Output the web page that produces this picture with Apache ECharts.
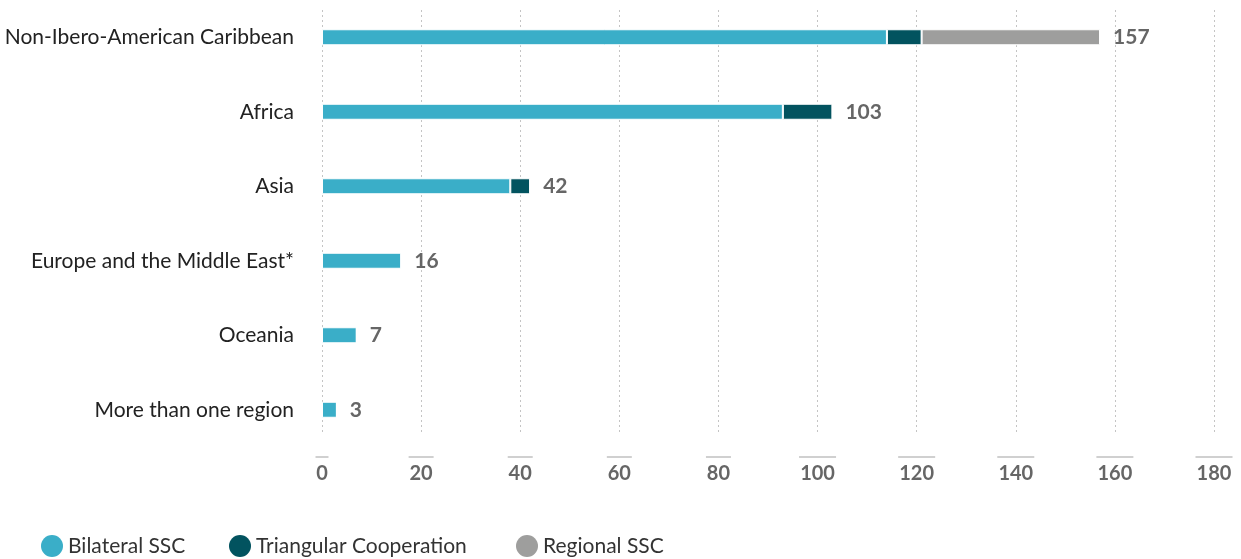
<!DOCTYPE html>
<html><head><meta charset="utf-8">
<script src="https://cdn.jsdelivr.net/npm/echarts@6/dist/echarts.min.js"></script>
<style>html,body{margin:0;padding:0;background:#fff}#c{width:1241px;height:559px}</style>
</head><body><div id="c"></div>
<script>
const categories = ["Non-Ibero-American Caribbean","Africa","Asia","Europe and the Middle East*","Oceania","More than one region"];
const bilateral = [114, 93, 38, 16, 7, 3];
const triangular = [7, 10, 4, 0, 0, 0];
const regional = [36, 0, 0, 0, 0, 0];
const xTicks = [0, 20, 40, 60, 80, 100, 120, 140, 160, 180];
const seriesNames = ['Bilateral SSC', 'Triangular Cooperation', 'Regional SSC'];
const totals = categories.map((c, i) => bilateral[i] + triangular[i] + regional[i]);

const FONT = 'Lato, "Noto Sans", sans-serif';
const chart = echarts.init(document.getElementById('c'), null, {renderer: 'canvas'});
const segStyle = (color) => ({color: color, borderColor: '#fff', borderWidth: 1});
const legendLefts = [36, 224, 511];
chart.setOption({
  animation: false,
  textStyle: {fontFamily: FONT},
  grid: [
    {left: 322, right: 27, top: 0, height: 447},
    {left: 322, right: 27, top: 10, height: 422}
  ],
  xAxis: [
    {gridIndex: 0, type: 'value', min: xTicks[0], max: xTicks[xTicks.length - 1], interval: xTicks[1] - xTicks[0],
     axisLine: {show: false}, axisTick: {show: false}, splitLine: {show: false},
     axisLabel: {margin: 9, color: '#666', fontFamily: FONT, fontWeight: 'bold', fontSize: 20,
       formatter: function (v) {
         const s = String(v);
         return '{b' + s.length + '|}\n{v|' + s + '}';
       },
       rich: {
         b1: {width: 13, height: 2, backgroundColor: '#d0d0d0'},
         b2: {width: 25, height: 2, backgroundColor: '#d0d0d0'},
         b3: {width: 37, height: 2, backgroundColor: '#d0d0d0'},
         v: {color: '#666', fontFamily: FONT, fontWeight: 'bold', fontSize: 20, padding: [7, 0, 0, 0], lineHeight: 24}
       }}},
    {gridIndex: 1, type: 'value', min: xTicks[0], max: xTicks[xTicks.length - 1], interval: xTicks[1] - xTicks[0],
     axisLine: {show: false}, axisTick: {show: false}, axisLabel: {show: false},
     splitLine: {show: true, lineStyle: {color: '#c4c4c4', type: [2, 3], width: 1}}}
  ],
  yAxis: [
    {gridIndex: 0, type: 'category', data: categories, inverse: true,
     axisLine: {show: false}, axisTick: {show: false}, splitLine: {show: false},
     axisLabel: {margin: 28, color: '#222', fontFamily: FONT, fontSize: 21, padding: [0, 0, 5, 0]}},
    {gridIndex: 1, type: 'value', show: false, min: 0, max: 1}
  ],
  legend: seriesNames.map((n, i) => ({
    data: [n], left: legendLefts[i], bottom: -3, icon: 'circle', itemWidth: 22, itemHeight: 22,
    itemStyle: {borderWidth: 0}, textStyle: {color: '#333', fontFamily: FONT, fontSize: 21}
  })),
  series: [
    {name: seriesNames[0], type: 'bar', stack: 't', barWidth: 16, data: bilateral, itemStyle: segStyle('#3aaec8')},
    {name: seriesNames[1], type: 'bar', stack: 't', barWidth: 16, data: triangular, itemStyle: segStyle('#02535f')},
    {name: seriesNames[2], type: 'bar', stack: 't', barWidth: 16, data: regional, itemStyle: segStyle('#9e9e9d')},
    {name: 'Total', type: 'bar', stack: 't', barWidth: 16, data: totals.map(() => 0),
     itemStyle: {color: 'rgba(0,0,0,0)', borderWidth: 0},
     label: {show: true, position: 'right', distance: 13, color: '#666', fontFamily: FONT, fontWeight: 'bold', fontSize: 21,
       padding: [4, 0, 0, 0],
       formatter: (p) => String(totals[p.dataIndex])}}
  ]
});
</script></body></html>
